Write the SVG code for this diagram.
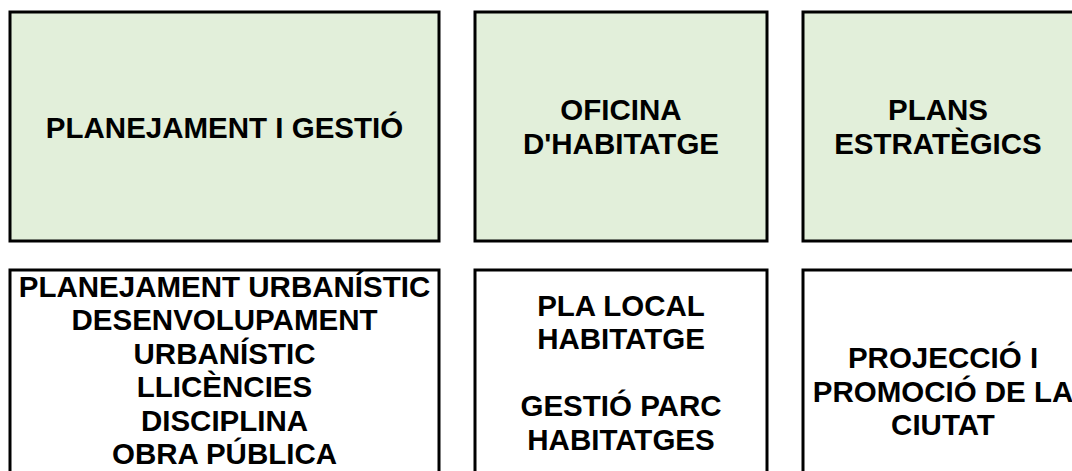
<svg xmlns="http://www.w3.org/2000/svg" width="1072" height="471" viewBox="0 0 1072 471">
<style>
.box{stroke:#000;stroke-width:3}
.hdr{fill:#E2EFDA}
.sub{fill:#FFFFFF}
text{font-family:"Liberation Sans",Arial,sans-serif;font-weight:bold;font-size:29.5px;fill:#000;text-anchor:middle}
</style>
<rect width="1072" height="471" fill="#FFFFFF"/>
<g id="connectors"></g>
<g id="planejament-gestio">
<rect class="box hdr" x="10" y="12" width="429" height="229"/>
<text x="224.5" y="138">PLANEJAMENT I GESTIÓ</text>
</g>
<g id="oficina-habitatge">
<rect class="box hdr" x="475" y="12" width="292" height="229"/>
<text x="621" y="120">OFICINA</text>
<text x="621" y="153.5">D'HABITATGE</text>
</g>
<g id="plans-estrategics">
<rect class="box hdr" x="803" y="12" width="280" height="229"/>
<text x="938" y="120">PLANS</text>
<text x="938" y="153.5">ESTRATÈGICS</text>
</g>
<g id="planejament-detall">
<rect class="box sub" x="10" y="270" width="429" height="220"/>
<text x="224.5" y="296.5">PLANEJAMENT URBANÍSTIC</text>
<text x="224.5" y="330">DESENVOLUPAMENT</text>
<text x="224.5" y="363.5">URBANÍSTIC</text>
<text x="224.5" y="397">LLICÈNCIES</text>
<text x="224.5" y="430.5">DISCIPLINA</text>
<text x="224.5" y="464">OBRA PÚBLICA</text>
</g>
<g id="habitatge-detall">
<rect class="box sub" x="475" y="270" width="292" height="220"/>
<text x="621" y="315.5">PLA LOCAL</text>
<text x="621" y="349">HABITATGE</text>
<text x="621" y="416">GESTIÓ PARC</text>
<text x="621" y="449.5">HABITATGES</text>
</g>
<g id="plans-detall">
<rect class="box sub" x="803" y="270" width="280" height="220"/>
<text x="943" y="368">PROJECCIÓ I</text>
<text x="943" y="401.5">PROMOCIÓ DE LA</text>
<text x="943" y="435">CIUTAT</text>
</g>
</svg>
